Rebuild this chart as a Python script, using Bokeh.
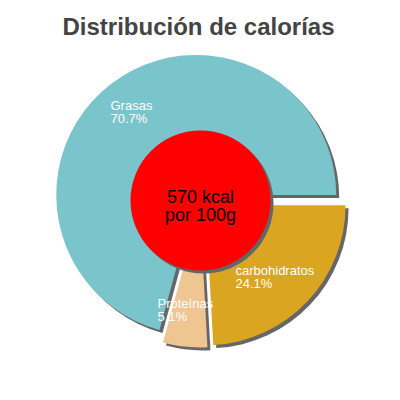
import math
from bokeh.plotting import figure
from bokeh.models import Range1d
from bokeh.embed import file_html
from bokeh.resources import INLINE
from bokeh.core.properties import value

# ---- data ----
title_text = "Distribución de calorías"
categories = ["Grasas", "Proteínas", "carbohidratos"]
percentages = [70.7, 5.1, 24.1]
slice_colors = ["#7ac4cc", "#efc591", "#daa520"]
center_lines = ["570 kcal", "por 100g"]

# ---- layout (screen pixel positions of the 400x400 page) ----
PAGE = 400
CX, CY = 200, 200          # pie centre (screen px)
R = 140                    # pie radius
EXPLODE = 7
SHADOW = 3
HOLE_R = 70
label_pos = [(110, 97), (157, 295), (235, 262)]   # top-left of each label block


def Y(sy):
    return PAGE - sy


p = figure(width=PAGE, height=PAGE, x_range=Range1d(0, PAGE), y_range=Range1d(0, PAGE),
           output_backend="svg", toolbar_location=None, min_border=0,
           x_axis_location=None, y_axis_location=None)
p.grid.visible = False
p.outline_line_color = None
p.background_fill_color = "white"
p.border_fill_color = "white"

total = sum(percentages)
starts, ends, xs, ys = [], [], [], []
acc = 0.0
for v in percentages:
    a0 = acc / total * 2 * math.pi
    acc += v
    a1 = acc / total * 2 * math.pi
    mid = (a0 + a1) / 2
    starts.append(a0)
    ends.append(a1)
    xs.append(CX + EXPLODE * math.cos(mid))
    ys.append(Y(CY) + EXPLODE * math.sin(mid))

# shadows
p.wedge(x=[x + SHADOW for x in xs], y=[y - SHADOW for y in ys], radius=R,
        start_angle=starts, end_angle=ends, fill_color="#666666", line_color=None)
# slices
p.wedge(x=xs, y=ys, radius=R, start_angle=starts, end_angle=ends,
        fill_color=slice_colors, line_color=None)

# centre circle with shadow
p.circle(x=[CX + SHADOW], y=[Y(CY) - SHADOW], radius=HOLE_R, fill_color="#666666", line_color=None)
p.circle(x=[CX], y=[Y(CY)], radius=HOLE_R, fill_color="#ff0000", line_color=None)

# slice labels
labels = [f"{c}\n{v}%" for c, v in zip(categories, percentages)]
p.text(x=[lp[0] for lp in label_pos], y=[Y(lp[1]) for lp in label_pos], text=labels,
       text_font=value("Liberation Sans"), text_font_size="13px", text_color="white",
       text_baseline="top", text_align="left", text_line_height=0.92)

# centre text
p.text(x=[CX, CX], y=[Y(196), Y(214)], text=center_lines,
       text_font=value("Liberation Sans"), text_font_size="18px", text_color="black",
       text_baseline="alphabetic", text_align="center")

# title
p.text(x=[198], y=[Y(26)], text=[title_text], text_font=value("Liberation Sans"),
       text_font_size="24px", text_font_style="bold", text_color="#444444",
       text_baseline="alphabetic", text_align="center")

open("out.html", "w").write(file_html(p, INLINE))
